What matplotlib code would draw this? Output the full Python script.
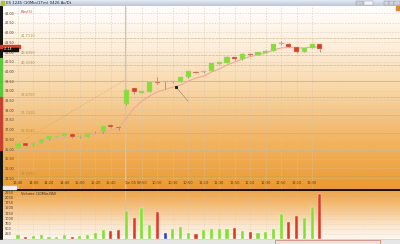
import numpy as np
import matplotlib
matplotlib.use('Agg')
import matplotlib.pyplot as plt
from matplotlib.colors import LinearSegmentedColormap
from matplotlib.patches import Rectangle

# ---- data ----
opens  = [36.06, 36.28, 36.18, 36.31, 36.50, 36.62, 36.68, 36.78, 36.61, 36.61,
          36.85, 36.85, 37.24, 37.14, 38.29, 39.11, 38.89, 38.95, 39.46, 39.45,
          39.43, 39.46, 39.69, 39.97, 39.94, 40.02, 40.38, 40.44, 40.72, 40.61,
          40.90, 40.84, 40.95, 41.04, 41.39, 41.42, 41.25, 40.99, 41.20, 41.40]
closes = [36.28, 36.16, 36.31, 36.50, 36.64, 36.68, 36.80, 36.59, 36.66, 36.80,
          36.88, 37.18, 37.11, 37.09, 39.03, 38.91, 38.96, 39.42, 39.38, 39.45,
          39.49, 39.70, 40.00, 39.92, 40.00, 40.40, 40.46, 40.75, 40.61, 40.90,
          40.82, 40.99, 41.06, 41.40, 41.44, 41.26, 40.99, 41.18, 41.40, 41.14]
highs  = [36.32, 36.30, 36.34, 36.52, 36.66, 36.70, 36.82, 36.80, 36.69, 36.82,
          36.92, 37.20, 37.30, 37.16, 39.06, 39.14, 38.99, 39.44, 39.69, 39.48,
          39.52, 39.72, 40.02, 40.00, 40.02, 40.42, 40.48, 40.77, 40.74, 40.92,
          40.92, 41.01, 41.08, 41.42, 41.54, 41.44, 41.27, 41.20, 41.42, 41.42]
lows   = [36.02, 36.13, 36.15, 36.29, 36.48, 36.60, 36.66, 36.56, 36.58, 36.59,
          36.83, 36.80, 37.09, 36.97, 38.27, 38.85, 38.87, 38.93, 39.36, 39.07,
          39.40, 39.44, 39.67, 39.90, 39.92, 40.00, 40.36, 40.42, 40.59, 40.59,
          40.80, 40.82, 40.93, 41.02, 41.37, 41.24, 40.94, 40.97, 41.18, 40.99]
ma_line = [36.20, 36.20, 36.25, 36.35, 36.45, 36.50, 36.58, 36.61, 36.63, 36.69,
           36.76, 36.87, 36.97, 37.05, 37.59, 38.10, 38.46, 38.72, 38.93, 39.06,
           39.18, 39.29, 39.49, 39.65, 39.75, 39.96, 40.11, 40.32, 40.47, 40.63,
           40.76, 40.83, 40.94, 41.09, 41.20, 41.22, 41.20, 41.20, 41.25, 41.25]
volumes = [180, 115, 160, 195, 100, 115, 180, 115, 160, 180,
           295, 440, 375, 440, 1355, 1015, 1520, 685, 1320, 310,
           475, 600, 310, 245, 440, 490, 490, 490, 525, 405,
           345, 295, 345, 475, 1225, 850, 1125, 1015, 1550, 2205]
# u = up, d = down, f = flat
vol_dir = ['u', 'd', 'u', 'u', 'u', 'u', 'u', 'd', 'u', 'u',
           'u', 'u', 'd', 'd', 'u', 'd', 'u', 'u', 'd', 'f',
           'u', 'u', 'u', 'd', 'u', 'u', 'u', 'u', 'd', 'u',
           'd', 'u', 'u', 'u', 'u', 'd', 'd', 'u', 'u', 'd']
time_labels = ['13:40', '14:00', '14:20', '14:40', '15:00', '15:20', '15:40',
               'Tue 05', '09:50', '10:10', '10:30', '10:50', '11:10', '11:30',
               '11:50', '12:10', '12:30', '12:50', '13:10', '13:30']
day_start = 14
price_ticks = [43.0 - 0.5 * k for k in range(18)]
vol_ticks = [250, 500, 750, 1000, 1250, 1500, 1750, 2000, 2250]
fib_levels = [41.7110, 40.8350, 40.3190, 38.6700, 37.7420, 36.8140, 34.5970]
ref_levels = [39.4940, 35.9370]
trend_x = [0.13, 13.82]
trend_y = [36.30, 39.55]
note_x = [20.41, 21.96]
note_y = [39.185, 38.46]
last_price = 41.14

W, H = 400, 244
fig = plt.figure(figsize=(4, 2.44), dpi=100)
fig.patch.set_facecolor('#141414')
plt.rcParams['font.family'] = ['DejaVu Sans']

def px_axes(x0, y0, x1, y1):
    a = fig.add_axes([x0 / W, 1 - y1 / H, (x1 - x0) / W, (y1 - y0) / H])
    return a

def fig_rect(x0, y0, x1, y1, **kw):
    fig.patches.append(Rectangle((x0 / W, 1 - y1 / H), (x1 - x0) / W, (y1 - y0) / H,
                                 transform=fig.transFigure, figure=fig, **kw))

x = np.arange(len(closes))
xlim = (-1.94, 49.35)
green = '#7fe32c'
red = '#e2391f'
blue = '#2446e0'

# ---- title bar ----
ax_t = px_axes(0, 0, 400, 6)
tcmap = LinearSegmentedColormap.from_list('t', ['#e4eaf3', '#b9c7db'])
ax_t.imshow(np.linspace(0, 1, 20).reshape(-1, 1), cmap=tcmap, aspect='auto',
            extent=[0, 1, 0, 1], transform=ax_t.transAxes)
ax_t.axis('off')
ax_t.text(0.016, 0.45, 'ES 1245 (10Min/1Tm) 0426 Ac/Dt', fontsize=2.8, color='#202840',
          va='center', ha='left', transform=ax_t.transAxes)
fig_rect(1, 1, 4, 5, color='#b8c020')
fig_rect(356, 0.5, 363, 5, color='#c8ccd4', ec='#8890a0', lw=0.3)
fig_rect(364, 0.5, 373, 5, color='#f4f4f4', ec='#8890a0', lw=0.3)
fig_rect(384, 0.5, 389, 5, color='#d0d4dc', ec='#8890a0', lw=0.3)
fig_rect(389, 0.5, 394, 5, color='#d0d4dc', ec='#8890a0', lw=0.3)
fig_rect(394, 0.5, 400, 5, color='#d0d4dc', ec='#8890a0', lw=0.3)

# ---- price panel ----
ax = px_axes(3, 6, 400, 189)
ymin, ymax = 33.93, 43.36
gcmap = LinearSegmentedColormap.from_list(
    'g', [(0, '#fffefc'), (0.22, '#fdeedb'), (0.45, '#f8d7a8'), (0.7, '#f2b86a'), (1, '#ec9a2e')])
ax.imshow(np.linspace(0, 1, 200).reshape(-1, 1), cmap=gcmap, aspect='auto',
          extent=[xlim[0], xlim[1], ymin, ymax], zorder=0)
ax.set_xlim(*xlim)
ax.set_ylim(ymin, ymax)
for s in ax.spines.values():
    s.set_visible(False)
ax.set_xticks([])
ax.set_yticks([])

# grid
for p in price_ticks:
    ax.axhline(p, color='#d6c4ac', lw=0.5, ls=(0, (2, 2)), alpha=0.8, zorder=1)
    ax.text(0.004, p - 0.04, f'{p:.2f}', transform=ax.get_yaxis_transform(), fontsize=2.4,
            color='#504030', va='center', ha='left', zorder=6)
for i in range(0, len(closes), 2):
    ax.axvline(i, color='#d6c4ac', lw=0.5, ls=(0, (2, 2)), alpha=0.8, zorder=1)
for k, lab in enumerate(time_labels):
    xi = 2 * k + (0.5 if lab.startswith('Tue') else 0)
    ax.text(xi, 0.032, lab, transform=ax.get_xaxis_transform(), fontsize=2.6,
            color='#504030', ha='center', va='center', zorder=6)

# level lines
for lv in fib_levels:
    ax.axhline(lv, color='#b9a560', lw=0.5, ls=(0, (1, 1)), zorder=1.5)
    ax.text(0.045, lv + 0.1, f'{lv:.4f}', transform=ax.get_yaxis_transform(),
            fontsize=2.5, color='#a89448', va='center', ha='left', zorder=6)
for lv in ref_levels:
    ax.axhline(lv, color='#cdb48a', lw=0.6, zorder=1.5)
ax.axvline(day_start - 0.18, color='#c8c4c0', lw=0.8, zorder=1.6)

# trend line and annotation
ax.plot(trend_x, trend_y, color='#c8a870', lw=0.5, ls=(0, (1, 1.5)), zorder=2)
ax.plot(note_x, note_y, color='#a09080', lw=0.5, zorder=2)
ax.plot(note_x[0], note_y[0], marker='s', ms=1.2, color='#202020', zorder=5)

# moving average
ax.plot(x, ma_line, color='#f0a89a', lw=0.8, zorder=2.5)

# candles
for i in range(len(closes)):
    o, c = opens[i], closes[i]
    col = green if vol_dir[i] == 'u' else red if vol_dir[i] == 'd' else '#b0a890'
    ax.vlines(i, lows[i], highs[i], color='#8a8070', lw=0.5, zorder=3)
    h = max(abs(c - o), 0.025)
    ax.bar(i, h, bottom=min(o, c), width=0.66, color=col, edgecolor='#c8c0a8',
           linewidth=0.3, zorder=4)

# current price tag
yt = ax.get_yaxis_transform()
ax.add_patch(Rectangle((-0.0075, last_price + 0.07), 0.05, 0.13, transform=yt,
                       color='#e03a20', zorder=7, clip_on=False))
ax.add_patch(Rectangle((0.0, last_price - 0.08), 0.038, 0.15, transform=yt,
                       color='#101010', zorder=7))
ax.text(0.003, last_price, f'{last_price:.2f}', transform=yt, fontsize=2.2,
        color='white', va='center', ha='left', zorder=8)
ax.text(0.045, 0.965, 'Fibs(5)', transform=ax.transAxes, fontsize=2.6,
        color='#e04030', va='center', ha='left', zorder=6)

# ---- volume panel ----
axv = px_axes(3, 191, 400, 240)
vmin, vmax = -49, 2353
vcmap = LinearSegmentedColormap.from_list(
    'v', [(0, '#fdf8f0'), (0.3, '#fae6cc'), (0.6, '#f6c88e'), (1, '#efa444')])
axv.imshow(np.linspace(1, 0, 100).reshape(-1, 1), cmap=vcmap, aspect='auto',
           extent=[xlim[0], xlim[1], vmin, vmax], zorder=0)
axv.set_xlim(*xlim)
axv.set_ylim(vmin, vmax)
for s in axv.spines.values():
    s.set_visible(False)
axv.set_xticks([])
axv.set_yticks([])
for v in vol_ticks:
    axv.axhline(v, color='#d6c4ac', lw=0.4, ls=(0, (2, 2)), alpha=0.6, zorder=1)
    axv.text(0.004, v, f'{v}', transform=axv.get_yaxis_transform(), fontsize=2.5,
             color='#504030', va='center', ha='left', zorder=6)
for i in range(0, len(closes), 2):
    axv.axvline(i, color='#d6c4ac', lw=0.4, ls=(0, (2, 2)), alpha=0.6, zorder=1)
axv.axvline(day_start - 0.18, color='#c8c4c0', lw=0.8, zorder=1.6)
vcols = [green if d == 'u' else red if d == 'd' else blue for d in vol_dir]
axv.bar(x, volumes, width=0.4, color=vcols, edgecolor='#f4f0e8', linewidth=0.3, zorder=3)
axv.axhline(0, color='#c0b8a8', lw=0.4, zorder=2)
axv.text(0.045, 0.94, 'Volume (10Min,NN)', transform=axv.transAxes, fontsize=2.6,
         color='#403020', va='center', ha='left', zorder=6)

# ---- frame bits ----
fig_rect(0, 58, 2, 97, color='#5cc840')
fig_rect(0, 97, 2, 150, color='#c84030')
fig_rect(3, 185.5, 16, 188.5, color='#eeeeee')
fig_rect(0, 240, 400, 244, color='#e6e6e6')
fig_rect(275, 240, 380, 243.5, fill=False, ec='#e07060', lw=0.5)
fig_rect(396, 6, 400, 10, color='#e08a30')

fig.savefig('out.png', dpi=100, facecolor=fig.get_facecolor())
